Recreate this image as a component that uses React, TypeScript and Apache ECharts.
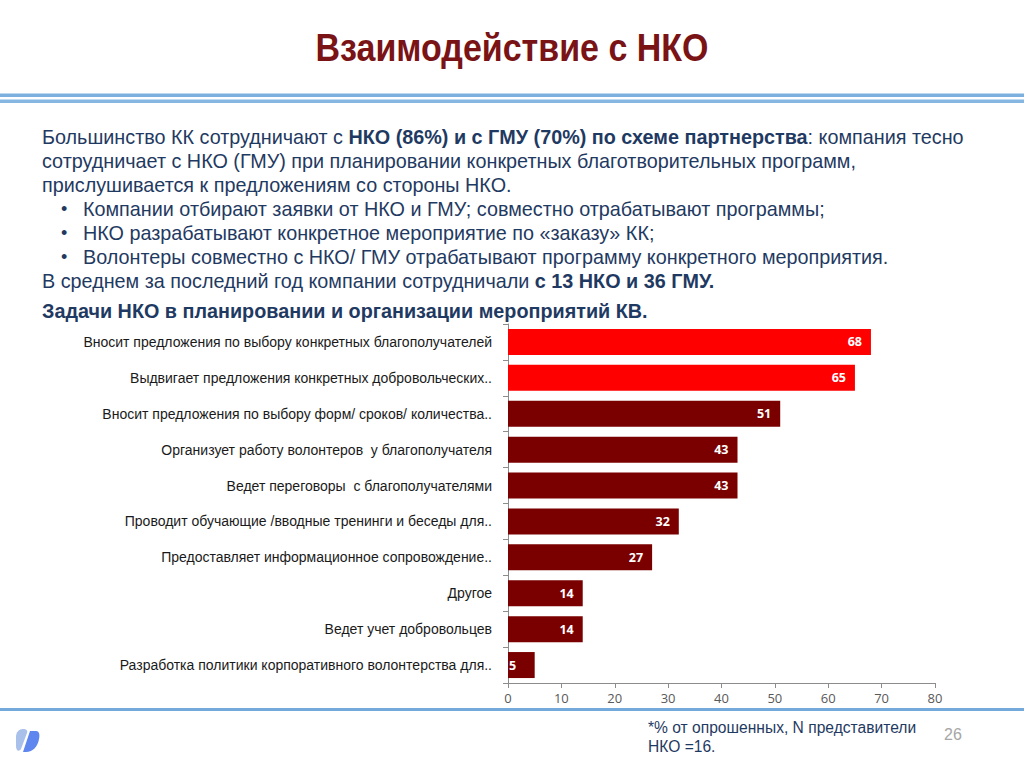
import React, { useEffect, useRef } from "react";
import * as echarts from "echarts";

const categories = [
  "Вносит предложения по выбору конкретных благополучателей",
  "Выдвигает предложения конкретных добровольческих..",
  "Вносит предложения по выбору форм/ сроков/ количества..",
  "Организует работу волонтеров  у благополучателя",
  "Ведет переговоры  с благополучателями",
  "Проводит обучающие /вводные тренинги и беседы для..",
  "Предоставляет информационное сопровождение..",
  "Другое",
  "Ведет учет добровольцев",
  "Разработка политики корпоративного волонтерства для..",
];
const values = [68, 65, 51, 43, 43, 32, 27, 14, 14, 5];
const highlighted = [true, true, false, false, false, false, false, false, false, false];
const xTicks = [0, 10, 20, 30, 40, 50, 60, 70, 80];

const TEXT = "#1F3A62";
const FONT = "Arial, 'Liberation Sans', sans-serif";

const bodyLines: { x: number; y: number; text: string }[] = [
  { x: 42, y: 137, text: "Большинство КК сотрудничают с {b|НКО (86%) и с ГМУ (70%) по схеме партнерства}: компания тесно" },
  { x: 42, y: 161, text: "сотрудничает с НКО (ГМУ) при планировании конкретных благотворительных программ," },
  { x: 42, y: 185, text: "прислушивается к предложениям со стороны НКО." },
  { x: 83, y: 209, text: "Компании отбирают заявки от НКО и ГМУ; совместно отрабатывают программы;" },
  { x: 83, y: 233, text: "НКО разрабатывают конкретное мероприятие по «заказу» КК;" },
  { x: 83, y: 257, text: "Волонтеры совместно с НКО/ ГМУ отрабатывают программу конкретного мероприятия." },
  { x: 42, y: 281, text: "В среднем за последний год компании сотрудничали {b|с 13 НКО и 36 ГМУ.}" },
  { x: 42, y: 311, text: "{b|Задачи НКО в планировании и организации мероприятий КВ.}" },
];
const bulletYs = [209, 233, 257];

echarts.graphic.registerShape(
  "logoLeft",
  echarts.graphic.extendPath("M7,1 C3,1 0,4 0,9 L0,18 C0,23 3,24 5,21 L11,5 C12,2 10,1 7,1 Z", {})
);
echarts.graphic.registerShape(
  "logoRight",
  echarts.graphic.extendPath("M14,3 L20,3 C23,3 24,6 23,11 C22,18 17,24 10,24 L7,24 Z", {})
);

export default function App() {
  const ref = useRef<HTMLDivElement>(null);
  useEffect(() => {
    document.body.style.margin = "0";
    const chart = echarts.init(ref.current!, null, { renderer: "svg" });
    const graphics: any[] = [
      {
        type: "text",
        x: 512,
        y: 48,
        scaleY: 1.15,
        style: {
          text: "Взаимодействие с НКО",
          font: `bold 34px ${FONT}`,
          fill: "#7A1315",
          align: "center",
          verticalAlign: "middle",
        },
      },
      { type: "rect", shape: { x: 0, y: 93.5, width: 1024, height: 3.5 }, style: { fill: "#7DB0DF" } },
      { type: "rect", shape: { x: 0, y: 99.5, width: 1024, height: 3.5 }, style: { fill: "#86B7E3" } },
      { type: "rect", shape: { x: 0, y: 708, width: 1024, height: 3 }, style: { fill: "#74AADB" } },
      ...bodyLines.map((l) => ({
        type: "text",
        x: l.x,
        y: l.y,
        style: {
          text: l.text,
          font: `19.8px ${FONT}`,
          fill: TEXT,
          verticalAlign: "middle",
          rich: { b: { font: `bold 19.8px ${FONT}`, fill: TEXT } },
        },
      })),
      ...bulletYs.map((y) => ({
        type: "text",
        x: 61,
        y,
        style: { text: "•", font: `18px ${FONT}`, fill: TEXT, verticalAlign: "middle" },
      })),
      {
        type: "text",
        x: 648,
        y: 727,
        style: { text: "*% от опрошенных, N представители", font: `15.6px ${FONT}`, fill: TEXT, verticalAlign: "middle" },
      },
      {
        type: "text",
        x: 648,
        y: 746,
        style: { text: "НКО =16.", font: `15.6px ${FONT}`, fill: TEXT, verticalAlign: "middle" },
      },
      {
        type: "text",
        x: 944,
        y: 734,
        style: { text: "26", font: `16px ${FONT}`, fill: "#A6A6A6", verticalAlign: "middle" },
      },
      { type: "logoLeft", x: 16, y: 728, style: { fill: "#A9C0EA" } },
      { type: "logoRight", x: 16, y: 728, style: { fill: "#5E86EE" } },
    ];

    chart.setOption({
      animation: false,
      grid: { left: 508, right: 89, top: 324, bottom: 85, containLabel: false },
      xAxis: {
        type: "value",
        min: 0,
        max: 80,
        interval: 10,
        splitLine: { show: false },
        axisLine: { show: true, lineStyle: { color: "#8C8C8C" } },
        axisTick: { show: true, length: 5, lineStyle: { color: "#8C8C8C" } },
        axisLabel: {
          color: "#595959",
          fontSize: 13,
          fontFamily: "'Open Sans', sans-serif",
          margin: 8,
          formatter: (v: number) => (xTicks.includes(v) ? String(v) : ""),
        },
      },
      yAxis: {
        type: "category",
        data: categories,
        inverse: true,
        axisLine: { show: true, lineStyle: { color: "#8C8C8C" } },
        axisTick: { show: true, length: 5, lineStyle: { color: "#8C8C8C" } },
        axisLabel: {
          color: "#1A1A1A",
          fontSize: 14,
          fontFamily: FONT,
          margin: 16,
        },
      },
      series: [
        {
          type: "bar",
          barWidth: 26,
          data: values.map((v, i) => ({
            value: v,
            itemStyle: { color: highlighted[i] ? "#FF0000" : "#7A0000" },
            label: v < 10 ? { position: "insideLeft", distance: 1 } : undefined,
          })),
          label: {
            show: true,
            position: "insideRight",
            distance: 9,
            color: "#FFFFFF",
            fontWeight: "bold",
            fontSize: 12.5,
            fontFamily: "'Open Sans', sans-serif",
          },
        },
      ],
      graphic: graphics,
    });
    return () => chart.dispose();
  }, []);
  return <div ref={ref} style={{ position: "fixed", left: 0, top: 0, width: 1024, height: 768, background: "#fff" }} />;
}
